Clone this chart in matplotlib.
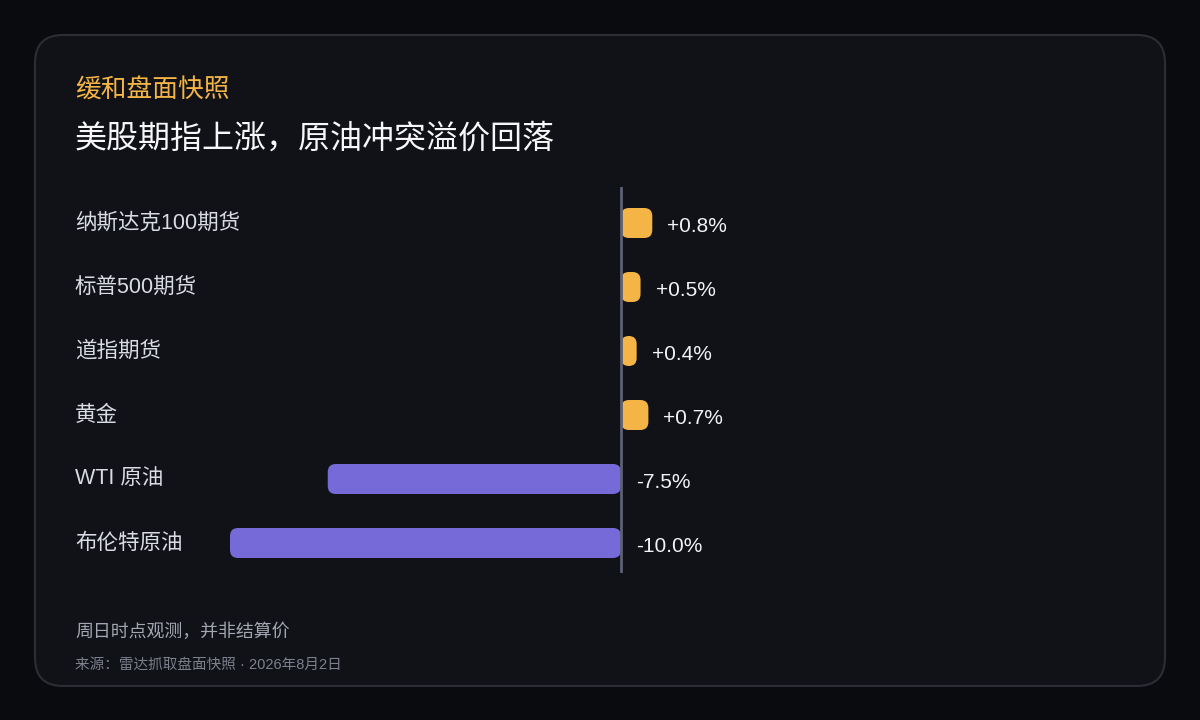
import matplotlib
matplotlib.use("Agg")
import matplotlib.pyplot as plt
from matplotlib.patches import FancyBboxPatch
import numpy as np

plt.rcParams["font.family"] = ["Liberation Sans", "Noto Sans CJK SC", "DejaVu Sans"]

# data
categories = ["纳斯达克100期货", "标普500期货", "道指期货", "黄金", "WTI 原油", "布伦特原油"]
changes = [0.8, 0.5, 0.4, 0.7, -7.5, -10.0]
value_labels = ["+0.8%", "+0.5%", "+0.4%", "+0.7%", "-7.5%", "-10.0%"]

kicker = "缓和盘面快照"
title = "美股期指上涨，原油冲突溢价回落"
note = "周日时点观测，并非结算价"
source = "来源：雷达抓取盘面快照 · 2026年8月2日"

BG = "#0a0b0f"
CARD = "#111217"
CARD_EDGE = "#2c2e36"
UP = "#f5b546"
DOWN = "#7669d8"
ZERO = "#5d6172"

W, H = 1200, 720
fig = plt.figure(figsize=(W / 100, H / 100), dpi=100, facecolor=BG)

# background layer in pixel coordinates
bg = fig.add_axes([0, 0, 1, 1])
bg.set_xlim(0, W)
bg.set_ylim(H, 0)
bg.axis("off")
bg.add_patch(FancyBboxPatch((35, 35), 1130, 651,
                            boxstyle="round,pad=0,rounding_size=28",
                            facecolor=CARD, edgecolor=CARD_EDGE, lw=1.5))

bg.text(75, 91, kicker, color=UP, fontsize=18.5, fontweight="medium", va="center", ha="left")
bg.text(75, 139, title, color="#f7f7f9", fontsize=23, va="center", ha="left")
bg.text(75, 632, note, color="#a3a7b3", fontsize=12.9, va="center", ha="left")
bg.text(75, 665, source, color="#7d818e", fontsize=10.5, va="center", ha="left")

# chart axes: pixel x 200..1100, y 187..573
px_per_unit = 39.1
zero_px = 621
ax_left, ax_right, ax_top, ax_bot = 200, 1100, 187, 573
ax = fig.add_axes([ax_left / W, 1 - ax_bot / H, (ax_right - ax_left) / W, (ax_bot - ax_top) / H])
ax.set_facecolor("none")
ax.set_xlim(-(zero_px - ax_left) / px_per_unit, (ax_right - zero_px) / px_per_unit)
row_px = 64
ax.set_ylim(len(categories) - 1 + 30 / row_px, -36 / row_px)
ax.axis("off")

bar_h = 30 / row_px
r_x = 8 / px_per_unit
aspect = (8 / row_px) / r_x

for i, (v, lab) in enumerate(zip(changes, value_labels)):
    x0 = min(0, v)
    w = abs(v)
    rs = min(r_x, w / 2)
    ax.add_patch(FancyBboxPatch((x0, i - bar_h / 2), w, bar_h,
                                boxstyle=f"round,pad=0,rounding_size={rs}",
                                mutation_aspect=aspect,
                                facecolor=UP if v > 0 else DOWN, edgecolor="none"))
    lx = (v if v > 0 else 0) + 15 / px_per_unit
    ax.text(lx, i + 4 / row_px, lab, color="#f3f3f6", fontsize=15, va="center", ha="left")
    # category label in pixel coordinates
    bg.text(75, ax_top + 36 + i * row_px, categories[i], color="#d9dce4",
            fontsize=15.5, va="center", ha="left")

ax.plot([0, 0], [ax.get_ylim()[0], ax.get_ylim()[1]], color=ZERO, lw=2, zorder=3)

fig.savefig("out.png", dpi=100, facecolor=BG)
